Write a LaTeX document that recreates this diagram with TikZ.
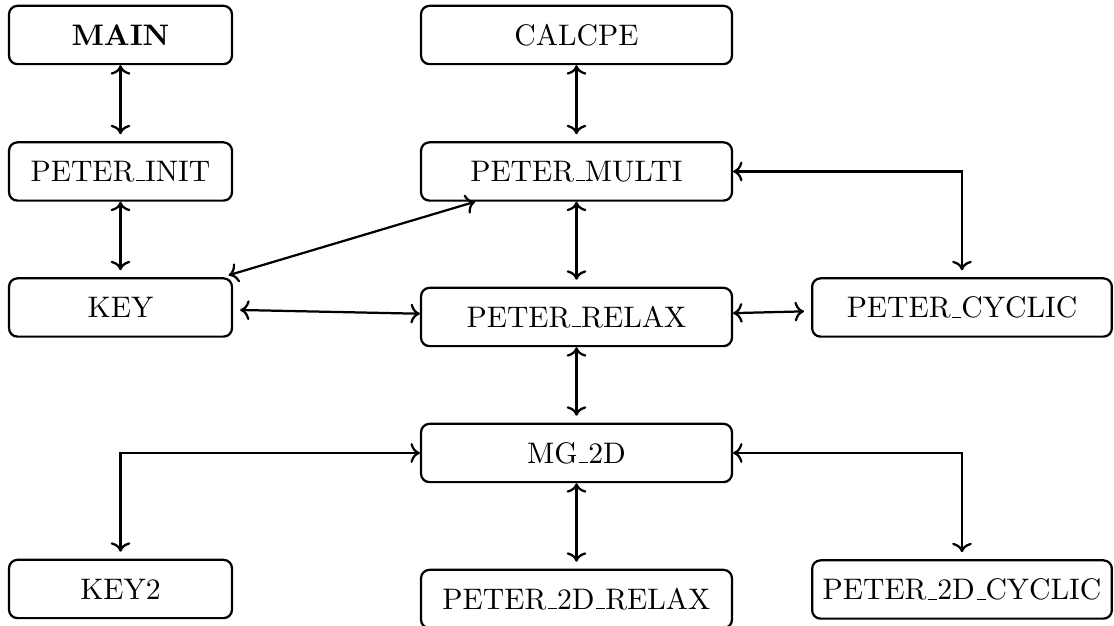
\documentclass[tikz,border=0pt]{standalone}
\usetikzlibrary{arrows.meta}
\newcommand\us{\leavevmode\kern.06em\vbox{\hrule width.3em}}
\begin{document}
\begin{tikzpicture}[x=0.357pt,y=-0.357pt,
  box/.style={draw,thick,rounded corners=3pt,minimum height=20.8pt,inner sep=0pt,font=\fontsize{10.6}{12.5}\selectfont},
  narrow/.style={box,minimum width=79.6pt},
  wide/.style={box,minimum width=111pt},
  cyc/.style={box,minimum width=107pt},
  link/.style={thick,<->,shorten >=2.5pt}]
\useasboundingbox (0,0) rectangle (1114,626);
\node[narrow] (MAIN)   at (120.5,35)  {\textbf{MAIN}};
\node[narrow] (INIT)   at (120.5,171.5) {PETER\us INIT};
\node[narrow] (KEY)    at (120.5,307.5) {KEY};
\node[narrow] (KEY2)   at (120.5,589) {KEY2};
\node[wide]   (CALCPE) at (576.5,35)  {CALCPE};
\node[wide]   (MULTI)  at (576.5,171.5) {PETER\us MULTI};
\node[wide]   (RELAX)  at (576.5,317) {PETER\us RELAX};
\node[wide]   (MG)     at (576.5,453) {MG\us 2D};
\node[wide]   (RELAX2) at (576.5,599) {PETER\us 2D\us RELAX};
\node[cyc]    (CYC)    at (962,307.5) {PETER\us CYCLIC};
\node[cyc]    (CYC2)   at (962,589.5) {PETER\us 2D\us CYCLIC};
\draw[link] (MAIN) -- (INIT);
\draw[link] (CALCPE) -- (MULTI);
\draw[link] (INIT) -- (KEY);
\draw[link] (MULTI) -- (KEY);
\draw[link] (RELAX) -- (KEY);
\draw[link] (MULTI) -- (RELAX);
\draw[link] (MULTI) -| (CYC);
\draw[link] (RELAX) -- (CYC);
\draw[link] (RELAX) -- (MG);
\draw[link] (MG) -| (KEY2);
\draw[link] (MG) -- (RELAX2);
\draw[link] (MG) -| (CYC2);
\end{tikzpicture}
\end{document}
